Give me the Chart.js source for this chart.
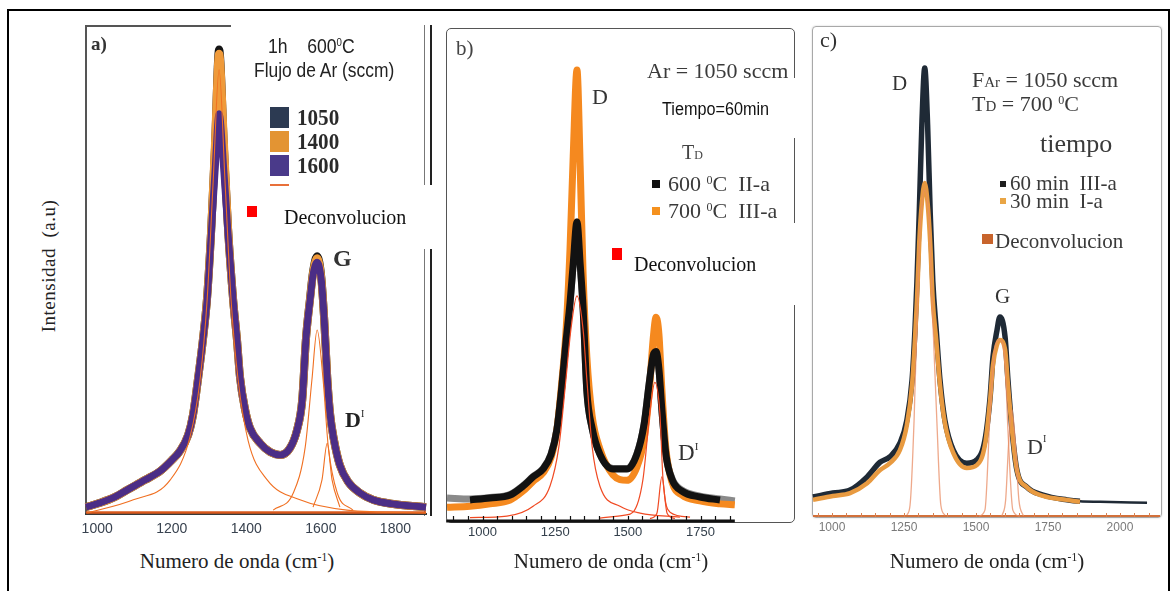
<!DOCTYPE html>
<html>
<head>
<meta charset="utf-8">
<script src="https://cdn.jsdelivr.net/npm/chart.js@4.4.1/dist/chart.umd.min.js"></script>
<style>
  html, body { margin: 0; padding: 0; background: #fff; }
  body { width: 1171px; height: 591px; position: relative; overflow: hidden; }
  canvas { position: absolute; }
  .t { position: absolute; white-space: nowrap; line-height: 1; font-family: 'Liberation Serif', 'Times New Roman', serif; color: #222; }
  .s { font-family: 'Liberation Sans', Arial, sans-serif; }
  .b { font-weight: bold; }
  .sup { font-size: 0.55em; position: relative; top: -0.6em; }
  .sq { position: absolute; }
  .ln { position: absolute; }
</style>
</head>
<body>

<!-- outer frame and panel frames -->
<div class="ln" style="left:7px;top:9px;width:1159px;height:620px;border:2px solid #000;border-bottom:none;"></div>
<div class="ln" style="left:85px;top:25px;width:146px;height:1.5px;background:#555"></div>
<div class="ln" style="left:85px;top:25px;width:1.5px;height:490px;background:#555"></div>
<div class="ln" style="left:424px;top:25px;width:1px;height:160px;background:#777"></div>
<div class="ln" style="left:430px;top:25px;width:2px;height:160px;background:#222"></div>
<div class="ln" style="left:424px;top:249px;width:1px;height:267px;background:#777"></div>
<div class="ln" style="left:430px;top:249px;width:2px;height:267px;background:#222"></div>
<div class="ln" style="left:446px;top:28px;width:349px;height:495px;box-sizing:border-box;border:1.5px solid #555;border-radius:5px"></div>
<div class="ln" style="left:789px;top:78px;width:10px;height:60px;background:#fff"></div>
<div class="ln" style="left:789px;top:223px;width:10px;height:82px;background:#fff"></div>
<div class="ln" style="left:812px;top:26px;width:350px;height:492px;box-sizing:border-box;border:1.5px solid #a8a8a8;border-radius:4px;box-shadow:0 0 2px #ccc"></div>

<canvas id="chartA" width="380" height="528" style="left:66px;top:16px"></canvas>
<canvas id="chartB" width="388" height="517" style="left:426px;top:19px"></canvas>
<canvas id="chartC" width="387" height="530" style="left:793px;top:17px"></canvas>

<!-- panel a texts -->
<span class="t b" style="left:91px;top:34px;font-size:19px;color:#333">a)</span>
<span class="t s" style="left:268px;top:36px;font-size:20px;transform:scaleX(.88);transform-origin:0 0">1h&nbsp;&nbsp;&nbsp; 600<span class="sup">0</span>C</span>
<span class="t s" style="left:254px;top:60px;font-size:20px;transform:scaleX(.87);transform-origin:0 0">Flujo de Ar (sccm)</span>
<div class="sq" style="left:270px;top:107px;width:19px;height:21px;background:#2c3a52"></div>
<div class="sq" style="left:270px;top:131px;width:19px;height:21px;background:#e39433"></div>
<div class="sq" style="left:270px;top:155px;width:19px;height:21px;background:#4a3a8a"></div>
<span class="t b" style="left:297px;top:105px;font-size:24px;color:#2a2a2a;transform:scaleX(.88);transform-origin:0 0">1050</span>
<span class="t b" style="left:297px;top:129px;font-size:24px;color:#2a2a2a;transform:scaleX(.88);transform-origin:0 0">1400</span>
<span class="t b" style="left:297px;top:153px;font-size:24px;color:#2a2a2a;transform:scaleX(.88);transform-origin:0 0">1600</span>
<div class="sq" style="left:270px;top:184px;width:19px;height:2px;background:#e8703a"></div>
<div class="sq" style="left:247px;top:206px;width:10px;height:11px;background:#ff0000"></div>
<span class="t" style="left:284px;top:207px;font-size:20px;color:#111">Deconvolucion</span>
<span class="t b" style="left:333px;top:246px;font-size:24px;color:#333">G</span>
<span class="t b" style="left:345px;top:409px;font-size:22px;color:#222">D<span style="font-size:10px;font-weight:normal;position:relative;top:-10px">I</span></span>
<span class="t" style="left:48px;top:266px;font-size:19px;letter-spacing:0.5px;transform:translate(-50%,-50%) rotate(-90deg)">Intensidad&nbsp; (a.u)</span>
<span class="t" style="left:237px;top:551px;font-size:21px;transform:translateX(-50%)">Numero de onda (cm<span class="sup">-1</span>)</span>

<!-- panel b texts -->
<span class="t" style="left:456px;top:38px;font-size:21px;color:#444">b)</span>
<span class="t" style="left:647px;top:60px;font-size:22px;color:#3a3a3a">Ar = 1050 sccm</span>
<span class="t s" style="left:662px;top:100px;font-size:18px;color:#111;transform:scaleX(.9);transform-origin:0 0">Tiempo=60min</span>
<span class="t" style="left:682px;top:142px;font-size:20px;color:#444">T<span style="font-size:12px">D</span></span>
<div class="sq" style="left:652px;top:180px;width:8px;height:8px;background:#111"></div>
<div class="sq" style="left:652px;top:207px;width:8px;height:8px;background:#f5911e"></div>
<span class="t" style="left:668px;top:173px;font-size:22px;color:#3a3a3a">600 <span class="sup">0</span>C&nbsp; II-a</span>
<span class="t" style="left:668px;top:200px;font-size:22px;color:#3a3a3a">700 <span class="sup">0</span>C&nbsp; III-a</span>
<div class="sq" style="left:612px;top:248px;width:10px;height:12px;background:#ff0000"></div>
<span class="t" style="left:634px;top:254px;font-size:20px;color:#111">Deconvolucion</span>
<span class="t" style="left:592px;top:86px;font-size:22px;color:#333">D</span>
<span class="t" style="left:678px;top:441px;font-size:23px;color:#333">D<span style="font-size:11px;position:relative;top:-10px">I</span></span>
<span class="t" style="left:611px;top:551px;font-size:21px;transform:translateX(-50%)">Numero de onda (cm<span class="sup">-1</span>)</span>

<!-- panel c texts -->
<span class="t" style="left:820px;top:29px;font-size:22px;color:#333">c)</span>
<span class="t" style="left:892px;top:73px;font-size:21px;color:#333">D</span>
<span class="t" style="left:972px;top:69px;font-size:22px;color:#3a3a3a">F<span style="font-size:15px">Ar</span> = 1050 sccm</span>
<span class="t" style="left:972px;top:93px;font-size:22px;color:#3a3a3a">T<span style="font-size:15px">D</span> = 700 <span class="sup">0</span>C</span>
<span class="t" style="left:1040px;top:131px;font-size:26px;color:#3a3a3a">tiempo</span>
<div class="sq" style="left:1000px;top:181px;width:6px;height:6px;background:#1e1e1e"></div>
<div class="sq" style="left:1000px;top:198px;width:6px;height:6px;background:#e9a545"></div>
<span class="t" style="left:1010px;top:173px;font-size:21px;color:#3a3a3a">60 min&nbsp; III-a</span>
<span class="t" style="left:1010px;top:191px;font-size:21px;color:#3a3a3a">30 min&nbsp; I-a</span>
<div class="sq" style="left:982px;top:234px;width:11px;height:10px;background:#c8642c"></div>
<span class="t" style="left:995px;top:231px;font-size:21px;color:#3a3a3a">Deconvolucion</span>
<span class="t" style="left:995px;top:286px;font-size:21px;color:#333">G</span>
<span class="t" style="left:1027px;top:436px;font-size:22px;color:#333">D<span style="font-size:10px;position:relative;top:-12px">I</span></span>
<span class="t" style="left:987px;top:551px;font-size:21px;transform:translateX(-50%)">Numero de onda (cm<span class="sup">-1</span>)</span>

<script>
// ---- panel a) : Ar flow 1050 / 1400 / 1600 sccm, 1h 600C ----
const waveA = [970, 1008, 1048, 1080, 1129, 1169, 1201, 1220, 1244, 1257, 1271, 1284, 1295, 1306, 1316, 1327, 1340, 1351, 1365, 1375, 1383, 1397, 1410, 1437, 1464, 1491, 1517, 1536, 1550, 1560, 1571, 1579, 1590, 1601, 1609, 1617, 1625, 1635, 1651, 1673, 1705, 1740, 1799, 1882];
const flow1050 = [1.4, 2.3, 3.5, 4.9, 7.0, 8.8, 11.1, 12.7, 16.2, 20.3, 28.0, 36.0, 44.5, 58.5, 75.0, 95.2, 75.0, 58.5, 43.6, 35.7, 28.1, 21.3, 17.6, 14.5, 12.7, 12.1, 13.5, 17.2, 23.4, 35.9, 44.2, 49.6, 52.8, 48.6, 39.8, 28.1, 20.3, 15.2, 10.0, 6.6, 4.3, 2.9, 2.0, 1.4];
const flow1400 = [1.4, 2.3, 3.5, 4.9, 7.0, 8.8, 11.1, 12.7, 16.2, 20.3, 28.0, 36.0, 44.5, 58.5, 76.0, 94.3, 76.0, 58.5, 43.6, 35.7, 28.1, 21.3, 17.6, 14.5, 12.7, 12.1, 13.5, 17.2, 23.4, 35.9, 44.0, 49.3, 52.4, 48.3, 39.8, 28.1, 20.3, 15.2, 10.0, 6.6, 4.3, 2.9, 2.0, 1.4];
const flow1600 = [1.4, 2.3, 3.5, 4.9, 7.0, 8.8, 11.1, 12.7, 16.2, 20.3, 28.0, 36.0, 44.0, 57.5, 70.0, 82.0, 70.0, 57.5, 43.6, 35.7, 28.1, 21.3, 17.6, 14.5, 12.7, 12.1, 13.5, 17.2, 23.4, 35.9, 43.9, 49.0, 51.6, 48.0, 39.8, 28.1, 20.3, 15.2, 10.0, 6.6, 4.3, 2.9, 2.0, 1.4];
const decDWaveA = [973, 1097, 1196, 1249, 1276, 1295, 1311, 1327, 1343, 1359, 1378, 1405, 1456, 1544, 1670, 1882];
const decDA = [0.2, 2.9, 7.0, 15.8, 27.5, 44.0, 68.0, 91.0, 68.0, 44.0, 27.5, 15.0, 7.0, 2.9, 0.8, 0.2];
const decGWaveA = [1472, 1526, 1558, 1576, 1590, 1606, 1620, 1644, 1686];
const decGA = [0.8, 4.3, 13.7, 27.5, 37.7, 27.5, 13.7, 4.3, 0.8];
const decD2WaveA = [1579, 1603, 1617, 1630, 1651];
const decD2A = [1.4, 7.0, 14.5, 7.0, 1.4];
const baseWaveA = [970, 1882];
const baseA = [0.3, 0.3];
const ticksA = [1000, 1200, 1400, 1600, 1800];

// ---- panel b) : Ar 1050 sccm, 60 min, 600C vs 700C ----
const waveB = [878, 957, 1026, 1095, 1139, 1174, 1208, 1236, 1256, 1272, 1287, 1301, 1312, 1325, 1336, 1346, 1359, 1377, 1404, 1449, 1497, 1531, 1556, 1573, 1587, 1597, 1607, 1617, 1631, 1652, 1686, 1748, 1817, 1868];
const grayB = [4.2, 4.0, 4.3, 4.9, 6.7, 8.6, 10.2, 13.2, 18.3, 26.4, 36.0, 44.0, 52.0, 60.6, 52.0, 43.0, 26.0, 18.5, 13.2, 10.2, 10.2, 13.2, 19.3, 27.4, 33.3, 34.1, 30.5, 22.3, 13.2, 8.2, 5.8, 4.6, 4.0, 3.6];
const temp600 = [null, 3.8, 4.2, 4.8, 6.6, 8.5, 10.1, 13.1, 18.2, 26.4, 36.0, 44.0, 52.0, 60.6, 52.0, 43.0, 26.0, 18.5, 13.1, 10.1, 10.1, 13.1, 19.3, 27.4, 33.3, 34.1, 30.5, 22.3, 13.1, 8.0, 5.6, 4.4, 3.8, null];
const temp700 = [2.3, 2.5, 3.0, 3.8, 5.6, 7.6, 9.3, 12.5, 18.2, 27.4, 38.0, 55.0, 74.0, 91.6, 72.0, 50.0, 33.0, 21.0, 14.2, 8.9, 7.8, 10.5, 16.2, 25.4, 36.6, 41.1, 37.6, 26.4, 14.2, 7.4, 4.8, 3.6, 3.0, 2.8];
const decDWaveB = [957, 1084, 1174, 1232, 1263, 1287, 1304, 1325, 1346, 1359, 1377, 1404, 1473, 1542, 1679];
const decDB = [0.2, 0.5, 2.5, 6.6, 14.8, 28.4, 38.6, 45.5, 38.6, 28.4, 14.8, 6.6, 2.5, 1.1, 0.3];
const decGWaveB = [1404, 1490, 1518, 1552, 1576, 1593, 1610, 1621, 1645, 1714];
const decGB = [0.1, 0.7, 1.3, 8.0, 21.7, 27.8, 21.7, 8.0, 1.3, 0.3];
const decD2WaveB = [1576, 1600, 1617, 1635, 1662];
const decD2B = [0, 1.1, 8.5, 1.1, 0];
const ticksB = [1000, 1250, 1500, 1750];

// ---- panel c) : Ar 1050 sccm, 700C, 60 min vs 30 min ----
const waveC = [934, 1003, 1063, 1122, 1167, 1201, 1236, 1260, 1278, 1288, 1295, 1303, 1312, 1322, 1332, 1341, 1350, 1362, 1375, 1392, 1421, 1468, 1503, 1531, 1549, 1559, 1573, 1583, 1601, 1611, 1625, 1642, 1677, 1733, 1816, 1861, 1931, 2094];
const time60 = [3.9, 4.7, 5.3, 8.0, 11.0, 12.1, 14.9, 19.6, 27.8, 38.0, 48.0, 62.0, 80.0, 91.6, 80.0, 62.0, 48.0, 38.0, 27.8, 19.6, 13.5, 10.8, 11.5, 15.5, 24.3, 32.5, 38.0, 40.7, 36.6, 27.8, 17.6, 9.4, 5.9, 4.3, 3.3, 3.0, 2.9, 2.7];
const time30 = [3.3, 4.1, 4.7, 6.7, 9.4, 10.8, 13.5, 18.6, 26.8, 36.0, 44.0, 56.0, 64.0, 68.1, 64.0, 56.0, 44.0, 36.0, 26.8, 19.0, 12.9, 9.8, 10.4, 14.5, 23.7, 30.9, 35.0, 36.0, 34.0, 26.8, 17.6, 9.4, 5.9, 4.1, 3.3, 2.9, null, null];
const decDWaveC = [1260, 1271, 1285, 1295, 1306, 1322, 1339, 1350, 1364, 1378, 1392];
const decDC = [0.2, 2.2, 19.6, 40.0, 58.5, 66.7, 58.5, 40.0, 19.6, 2.2, 0.2];
const decGWaveC = [1510, 1531, 1549, 1566, 1583, 1601, 1611, 1628, 1650];
const decGC = [0, 1.2, 21.0, 34.6, 36.0, 31.3, 17.6, 1.2, 0];
const decD2WaveC = [1590, 1603, 1614, 1625, 1636, 1649, 1665];
const decD2C = [0, 3.3, 15.5, 21.7, 15.5, 3.3, 0];
const baseWaveC = [934, 2139];
const baseC = [0, 0];
const ticksC = [1000, 1250, 1500, 1750, 2000];

function pts(xs, ys) {
    return xs.map((x, i) => ({ x: x, y: ys[i] }));
}

function line(xs, ys, color, width, tailFrom, tailWidth) {
    const ds = {
        data: pts(xs, ys),
        borderColor: color,
        borderWidth: width,
        pointRadius: 0,
        fill: false,
        cubicInterpolationMode: 'monotone',
        borderJoinStyle: 'round',
        spanGaps: false,
        clip: false
    };
    // thinner line for the flat end of a trace
    if (tailFrom != null) {
        ds.segment = { borderWidth: c => (c.p0.parsed.x >= tailFrom ? tailWidth : width) };
    }
    return ds;
}

// small inward tick marks and axis bar (panels b and c)
const innerTicks = {
    id: 'innerTicks',
    afterDatasetsDraw(chart, args, opts) {
        if (!opts || !opts.step) return;
        const ctx = chart.ctx;
        const xs = chart.scales.x;
        const yb = chart.chartArea.bottom;
        ctx.save();
        ctx.strokeStyle = opts.color;
        if (opts.barFrom != null) {
            ctx.lineWidth = opts.barWidth;
            ctx.beginPath();
            ctx.moveTo(xs.getPixelForValue(opts.barFrom), yb);
            ctx.lineTo(xs.getPixelForValue(opts.barTo), yb);
            ctx.stroke();
        }
        ctx.lineWidth = opts.width;
        ctx.beginPath();
        for (let v = opts.from; v <= opts.to; v += opts.step) {
            const px = Math.round(xs.getPixelForValue(v)) + 0.5;
            ctx.moveTo(px, yb);
            ctx.lineTo(px, yb - opts.len);
        }
        ctx.stroke();
        ctx.restore();
    }
};

// datasets are listed top-most first (Chart.js paints the first one last)
function createChart(id, cfg) {
    return new Chart(document.getElementById(id), {
        type: 'line',
        data: { datasets: cfg.datasets },
        plugins: [innerTicks],
        options: {
            responsive: false,
            animation: false,
            events: [],
            layout: { padding: { left: 20, right: 20, top: 10, bottom: 0 } },
            plugins: {
                legend: { display: false },
                tooltip: { enabled: false },
                innerTicks: cfg.inner || {}
            },
            scales: {
                x: {
                    type: 'linear',
                    min: cfg.xMin,
                    max: cfg.xMax,
                    afterBuildTicks: s => { s.ticks = cfg.ticks.map(v => ({ value: v })); },
                    afterFit: s => { s.height = cfg.axisH; },
                    ticks: {
                        font: { family: 'Liberation Sans', size: cfg.tickSize },
                        color: cfg.tickColor,
                        padding: cfg.tickPad,
                        maxRotation: 0,
                        autoSkip: false,
                        callback: v => String(v)
                    },
                    grid: { display: false, drawTicks: cfg.tickLen > 0, tickLength: cfg.tickLen },
                    border: { display: cfg.border != null, color: cfg.border, width: 2 }
                },
                y: { display: false, min: cfg.yMin, max: 100 }
            }
        }
    });
}

createChart('chartA', {
    xMin: 970, xMax: 1882, yMin: 0, ticks: ticksA, axisH: 30,
    tickSize: 14, tickColor: '#38424f', tickPad: 3, tickLen: 4, border: '#3a3a3a',
    datasets: [
        line(decDWaveA, decDA, '#f07022', 1.1),
        line(decGWaveA, decGA, '#f07022', 1.1),
        line(decD2WaveA, decD2A, '#f07022', 1.1),
        line(baseWaveA, baseA, '#d9581c', 2.5),
        line(waveA, flow1600, '#4b2d86', 7),
        line(waveA, flow1400, '#ef9a3a', 8),
        line(waveA, flow1050, '#151515', 8)
    ]
});

createChart('chartB', {
    xMin: 874.4, xMax: 2071.6, yMin: -0.5, ticks: ticksB, axisH: 15,
    tickSize: 13, tickColor: '#34404c', tickPad: 4, tickLen: 0, border: null,
    inner: { from: 900, to: 1850, step: 50, len: 5, width: 1.2, color: '#111', barFrom: 875, barTo: 1868, barWidth: 3 },
    datasets: [
        line(decDWaveB, decDB, '#f04a23', 1.2),
        line(decGWaveB, decGB, '#f04a23', 1.2),
        line(decD2WaveB, decD2B, '#f04a23', 1.2),
        line(waveB, temp600, '#121212', 7),
        line(waveB, temp700, '#f5891f', 7),
        line(waveB, grayB, '#8a8a8a', 7)
    ]
});

createChart('chartC', {
    xMin: 934, xMax: 2139, yMin: -0.2, ticks: ticksC, axisH: 30,
    tickSize: 12, tickColor: '#7a7a7a', tickPad: 3, tickLen: 0, border: null,
    inner: { from: 950, to: 2100, step: 50, len: 4, width: 1, color: '#d88050' },
    datasets: [
        line(decDWaveC, decDC, 'rgba(232,140,100,0.75)', 1.3),
        line(decGWaveC, decGC, 'rgba(232,140,100,0.75)', 1.3),
        line(decD2WaveC, decD2C, 'rgba(232,140,100,0.75)', 1.3),
        line(waveC, time30, '#e89a40', 4.5),
        line(waveC, time60, '#1f2a36', 5.5, 1861, 2.5),
        line(baseWaveC, baseC, '#d2703a', 2)
    ]
});
</script>
</body>
</html>
